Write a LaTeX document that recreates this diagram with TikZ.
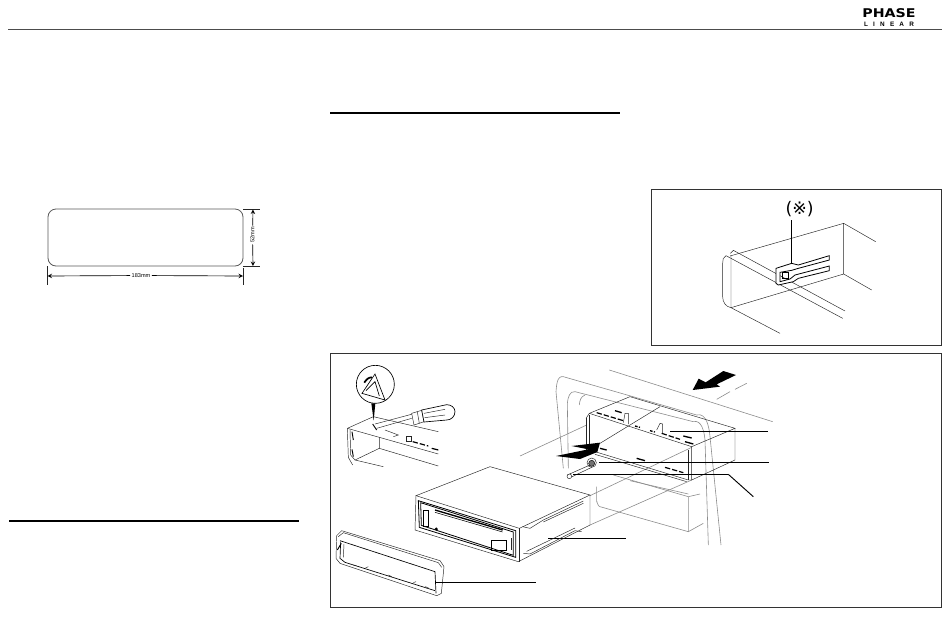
\documentclass[tikz,border=0pt]{standalone}
\usepackage{fontspec}
\setmainfont{Liberation Sans}
\newfontfamily\symfont{DejaVu Sans}
\tikzset{
  leader/.style={line width=0.7pt},
  thinline/.style={line width=0.35pt,draw=black!85},
  carline/.style={line width=0.45pt,draw=black!45},
  framebox/.style={line width=0.7pt,draw=black!80},
  heavyrule/.style={line width=1.3pt},
  dimline/.style={line width=0.5pt,-stealth},
  dimtext/.style={font=\fontsize{4.2}{5}\selectfont,inner sep=1pt},
  zoommain/.style={shift={(330,350)},x=0.25pt,y=-0.25pt},
  zoomsleeve/.style={shift={(540,350)},x=0.25pt,y=-0.25pt},
  zoominset/.style={shift={(650,185)},x=0.25pt,y=-0.25pt}
}
\begin{document}
\begin{tikzpicture}[x=0.75pt,y=-0.75pt]
            \useasboundingbox (0,0)rectangle(950,640);
            \draw [line width = 0.6pt,black!70](8,29)--(942,29);
            \draw [heavyrule](330,113)--(620,113);
            \draw [heavyrule](9,521)--(299,521);
            \node [inner sep=0pt] (logotop) at (889,13){\fontsize{9.5}{10}\selectfont\symfont\bfseries\scalebox{1.12}[0.95]{PHASE}};
            \node [inner sep=0pt] (logobottom) at (889,24){\fontsize{4.8}{5}\selectfont\bfseries L\hspace{3.9pt}I\hspace{3.9pt}N\hspace{3.9pt}E\hspace{3.9pt}A\hspace{3.9pt}R};
            \draw [line width=0.6pt,black!65,rounded corners=6pt](48,209)rectangle(243,266);
            \draw [thinline](47,266)--(47,285);
            \draw [thinline](243,268)--(243,285);
            \draw [thinline](243,209)--(260,209);
            \draw [thinline](243,266)--(260,266);
            \coordinate (dimleft) at (47.5,276);
            \coordinate (dimright) at (243,276);
            \coordinate (dimtop) at (253,209.5);
            \coordinate (dimbottom) at (253,266);
            \node [dimtext] (widthlabel) at (141,275.5){183mm};
            \node [dimtext,rotate=90] (heightlabel) at (252.5,235){52mm};
            \draw [dimline](widthlabel)--(dimleft);
            \draw [dimline](widthlabel)--(dimright);
            \draw [dimline](heightlabel)--(dimtop);
            \draw [dimline](heightlabel)--(dimbottom);
            \draw [framebox](651,189)rectangle(941,345);
            \begin{scope}[zoominset]
                \draw [thinline](240,213)--(581,115)--(581,267)--(243,368)--(243,210);
                \draw [thinline](581,115)--(677,170);
                \draw [thinline](581,267)--(665,315);
                \draw [thinline](243,368)--(390,445);
                \draw [thinline](585,378)--(250,196)--(241,205);
                \draw [thinline](578,400)--(228,212)to[out=200,in=90](218,235)--(218,335)to[out=-90,in=170](243,368);
                \filldraw [fill=white,line width=0.6pt](378,250)--(425,235)--(445,240)--(538,212)--(538,225)--(445,250)--(425,256)--(390,262)--(390,290)--(420,282)--(435,270)--(538,243)--(538,257)--(445,280)--(430,290)--(385,300)--(378,295)--cycle;
                \draw [line width=0.6pt](398,262)rectangle(415,280);
                \draw [leader](425,105)--(425,235);
                \node [inner sep=0pt] (asterisk) at (449,71){\fontsize{13}{14}\selectfont\symfont(※)};
            \end{scope}
            \draw [framebox](330,353)rectangle(941,607);
            \begin{scope}[zoomsleeve]
                \draw [carline](70,355)--(48,125)to[out=85,in=170](70,80)--(470,195)to[out=15,in=95](510,260)--(543,585);
                \draw [carline](85,355)--(82,160)to[out=85,in=170](105,125)--(460,215)to[out=15,in=95](495,270)--(505,585);
                \draw [carline](118,165)to[out=85,in=200](135,135);
                \draw [carline](208,60)--(698,215);
                \draw [carline](530,148)--(570,125);
                \draw [carline](585,118)--(620,100);
                \draw [carline](-60,318)--(140,225);
                \draw [carline](150,437)--(455,292);
                \draw [carline](150,525)--(455,390);
                \draw [carline](220,375)--(445,440)--(445,545)--(180,470)to[out=190,in=90](170,455)--(170,410);
                \draw [carline](270,392)--(445,432);
                \draw [carline](445,440)--(480,432);
                \draw [carline](445,545)--(490,520);
                \draw [thinline](180,280)--(360,170);
                \draw [thinline](148,190)--(270,140)--(585,235)--(455,290);
                \draw [thinline](138,205)--(148,190)--(455,290)--(455,390)--(585,330)--(585,235);
                \draw [thinline](138,205)--(138,300);
                \draw [thinline](148,195)--(148,310);
                \draw [thinline](445,300)--(445,390);
                \draw [thinline](165,305)--(445,390)--(455,390);
                \draw [thinline](165,313)--(440,395);
                \draw [thinline](250,218)--(255,190)--(265,190)--(265,222);
                \draw [thinline](350,240)--(360,220)--(368,222)--(368,250);
                \draw [line width=0.9pt,dash pattern=on 4pt off 1.5pt](170,188)--(250,212);
                \draw [line width=1pt,dash pattern=on 2pt off 1pt](285,228)--(300,232);
                \draw [line width=1pt,dash pattern=on 2pt off 1pt](330,242)--(345,246);
                \draw [line width=0.9pt,dash pattern=on 4pt off 1.5pt](365,250)--(420,268);
                \draw [line width=1pt](430,258)--(455,264);
                \draw [line width=1pt](435,275)--(460,282);
                \draw [line width=1pt](225,182)--(245,188);
                \draw [line width=1pt](290,325)--(315,332);
                \draw [line width=0.9pt,dash pattern=on 4pt off 1.5pt](375,352)--(430,368);
                \draw [line width=1pt](180,295)--(200,300);
                \fill (458,120)--(476,86)--(497,97)--(550,63)--(588,75)--(530,103)--(540,110)--cycle;
                \fill (180,278)--(95,288)--(145,298)--(48,318)--(120,327)--(172,306)--cycle;
                \draw [thinline](82,375)--(150,345);
                \draw [thinline](88,384)--(155,352);
                \filldraw [fill=white,thinline](88,379)circle(7);
                \draw [thinline](155,338)circle(14);
                \filldraw [fill=black!55,draw=black,line width=0.35pt](155,340)circle(9);
                \draw [leader](390,243)--(685,243);
                \draw [leader](178,337)--(688,337);
                \draw [leader](100,373)--(565,373);
                \draw [leader](565,373)--(640,440);
                \draw [leader](25,565)--(258,565);
            \end{scope}
            \begin{scope}[zoommain]
                \draw [thinline](258,437)--(480,350)--(780,435)--(568,535)--cycle;
                \draw [thinline](258,437)--(255,540)--(565,635)--(780,525)--(780,435);
                \draw [thinline](568,535)--(568,635);
                \draw [line width=0.6pt](265,452)--(557,542)--(557,622)--(268,532)--cycle;
                \draw [line width=0.6pt](272,458)--(550,546)--(550,616)--(274,526)--cycle;
                \draw [line width=1pt](315,480)--(518,540);
                \draw [line width=0.4pt](315,487)--(518,546);
                \draw [line width=0.7pt](280,480)rectangle(296,528);
                \draw [line width=0.6pt](484,571)rectangle(528,600);
                \fill (319,537)circle(5);
                \draw [thinline](545,565)--(545,600);
                \draw [thinline](578,530)--(600,535)--(640,510);
                \draw [thinline](640,516)--(760,460);
                \draw [thinline](640,510)--(760,453);
                \draw [thinline](580,610)--(600,612)--(735,542)--(755,545);
                \draw [thinline](590,604)--(735,534);
                \draw [thinline](20,557)--(35,542)--(330,632)--(342,650)--(334,730)--(320,737)--(30,640)--(18,625)--cycle;
                \draw [thinline](25,560)--(40,548)--(325,638)--(335,652);
                \draw [line width=0.5pt](30,572)--(315,665)--(318,730);
                \draw [line width=0.5pt](32,575)--(30,625)--(45,637)--(315,722);
                \draw [thinline](42,582)--(40,622);
                \draw [thinline](70,645)--(80,648);
                \draw [thinline](105,655)--(115,650);
                \draw [thinline](175,675)--(185,680);
                \draw [thinline](250,698)--(258,695);
                \draw [thinline](285,710)--(295,713);
                \draw [line width=0.7pt](22,600)--(34,580);
                \draw [line width=0.5pt](136,103)circle(57);
                \fill (124,160)--(136,160)--(131,212)--cycle;
                \draw [line width=0.5pt](96,130)--(135,72)--(165,150)--cycle;
                \draw [line width=0.5pt](108,122)--(135,95)--(148,138);
                \draw [line width=1.3pt](103,98)to[out=60,in=180](126,82);
                \draw [thinline](52,235)--(130,200)--(325,245);
                \draw [thinline](52,235)--(148,262)--(325,312);
                \draw [thinline](148,262)--(148,295)--(325,348);
                \draw [thinline](52,235)--(55,322)--(68,345);
                \draw [thinline](60,240)--(62,315)--(75,330)--(148,295);
                \draw [thinline](75,330)--(160,350);
                \draw [line width=0.7pt](66,245)--(70,270);
                \draw [line width=0.7pt](66,298)--(70,320);
                \draw [thinline](140,235)--(245,205);
                \draw [thinline](135,222)--(248,192);
                \filldraw [fill=white,thinline](245,190)--(275,181)--(282,215)--(252,225)--cycle;
                \filldraw [fill=white,line width=0.5pt](275,180)--(350,164)to[out=0,in=90](375,185)to[out=-90,in=0](350,210)--(282,216)--cycle;
                \draw [thinline](282,190)--(345,178);
                \draw [thinline](284,203)--(345,195);
                \draw [thinline](262,186)--(268,220);
                \draw [line width=0.7pt](128,222)--(140,240);
                \draw [thinline](165,240)--(205,255)--(190,260);
                \draw [thinline](228,275)rectangle(244,258);
                \draw [line width=0.9pt,dash pattern=on 4pt off 1.5pt](248,275)--(295,288);
                \draw [line width=0.9pt](305,295)--(325,300);
                \draw [leader](315,697)--(617,697);
            \end{scope}
        \end{tikzpicture}
\end{document}
